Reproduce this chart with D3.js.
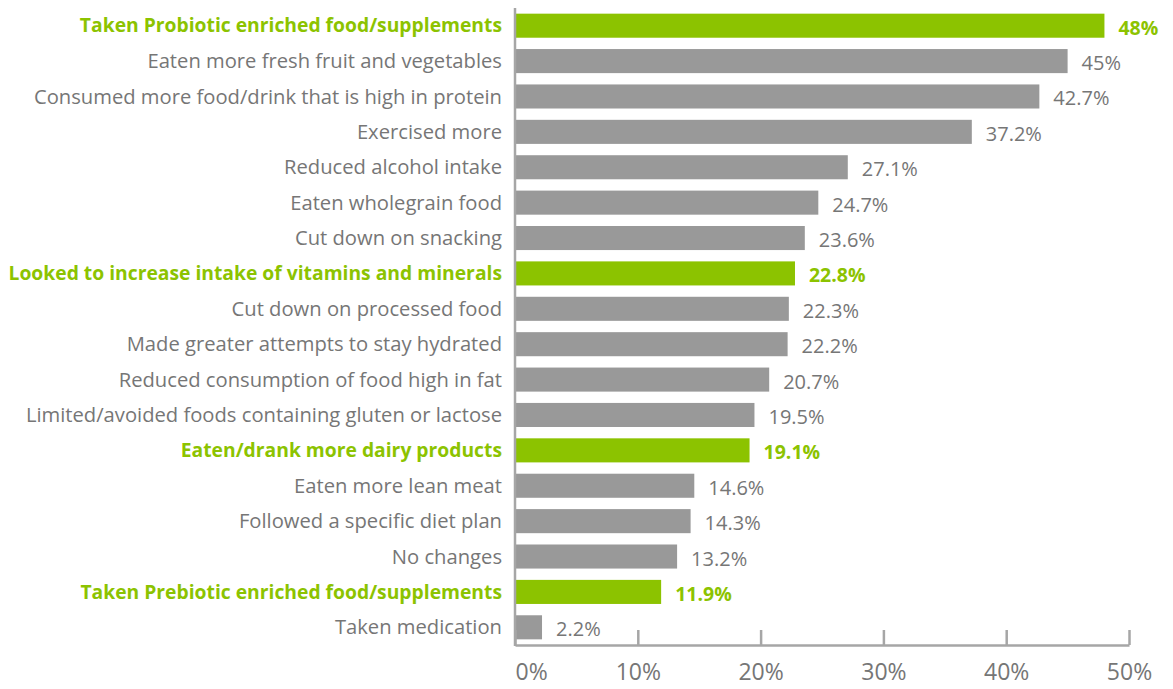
<!DOCTYPE html>
<html>
<head>
<meta charset="utf-8">
<script src="https://cdn.jsdelivr.net/npm/d3@7"></script>
<style>
  body { margin: 0; background: #fff; }
  text { font-family: "Open Sans", "Noto Sans", sans-serif; }
</style>
</head>
<body>
<div id="canvas"></div>
<script>
const categories = [
  "Taken Probiotic enriched food/supplements",
  "Eaten more fresh fruit and vegetables",
  "Consumed more food/drink that is high in protein",
  "Exercised more",
  "Reduced alcohol intake",
  "Eaten wholegrain food",
  "Cut down on snacking",
  "Looked to increase intake of vitamins and minerals",
  "Cut down on processed food",
  "Made greater attempts to stay hydrated",
  "Reduced consumption of food high in fat",
  "Limited/avoided foods containing gluten or lactose",
  "Eaten/drank more dairy products",
  "Eaten more lean meat",
  "Followed a specific diet plan",
  "No changes",
  "Taken Prebiotic enriched food/supplements",
  "Taken medication"
];
const values = [48, 45, 42.7, 37.2, 27.1, 24.7, 23.6, 22.8, 22.3, 22.2, 20.7, 19.5, 19.1, 14.6, 14.3, 13.2, 11.9, 2.2];
const valueLabels = ["48%", "45%", "42.7%", "37.2%", "27.1%", "24.7%", "23.6%", "22.8%", "22.3%", "22.2%", "20.7%", "19.5%", "19.1%", "14.6%", "14.3%", "13.2%", "11.9%", "2.2%"];
const highlighted = [
  "Taken Probiotic enriched food/supplements",
  "Looked to increase intake of vitamins and minerals",
  "Eaten/drank more dairy products",
  "Taken Prebiotic enriched food/supplements"
];
const xTicks = [0, 10, 20, 30, 40, 50];

const width = 1173;
const height = 689;
const green = "#8cc300";
const grey = "#999999";
const textGrey = "#767676";
const axisGrey = "#a6a6a6";

const svg = d3.select("#canvas").append("svg")
  .attr("width", width)
  .attr("height", height);

const x = d3.scaleLinear().domain([0, 50]).range([515, 1129]);
const y = d3.scaleBand().domain(categories).range([8, 645]).paddingInner(0.32).paddingOuter(0.16);

const isHi = (d) => highlighted.includes(d);

// bars
svg.selectAll("rect.bar")
  .data(categories)
  .enter()
  .append("rect")
  .attr("class", "bar")
  .attr("x", x(0))
  .attr("y", (d) => y(d))
  .attr("width", (d, i) => x(values[i]) - x(0))
  .attr("height", y.bandwidth())
  .attr("fill", (d) => isHi(d) ? green : grey);

// category labels
svg.selectAll("text.cat")
  .data(categories)
  .enter()
  .append("text")
  .attr("class", "cat")
  .attr("x", 502)
  .attr("y", (d) => y(d) + y.bandwidth() / 2)
  .attr("dy", "0.35em")
  .attr("text-anchor", "end")
  .attr("font-size", (d) => isHi(d) ? 19.3 : 20.2)
  .attr("font-weight", (d) => isHi(d) ? "bold" : "normal")
  .attr("fill", (d) => isHi(d) ? green : textGrey)
  .text((d) => d);

// value labels
svg.selectAll("text.val")
  .data(categories)
  .enter()
  .append("text")
  .attr("class", "val")
  .attr("x", (d, i) => x(values[i]) + 14)
  .attr("y", (d) => y(d) + y.bandwidth() / 2 + 2)
  .attr("dy", "0.35em")
  .attr("font-size", (d) => isHi(d) ? 19.5 : 20)
  .attr("font-weight", (d) => isHi(d) ? "bold" : "normal")
  .attr("fill", (d) => isHi(d) ? green : textGrey)
  .text((d, i) => valueLabels[i]);

// x axis
const xAxis = svg.append("g")
  .attr("transform", "translate(0,645)")
  .call(d3.axisBottom(x).tickValues(xTicks).tickSizeInner(-15).tickSizeOuter(0).tickFormat((d) => d + "%"));
xAxis.select(".domain").attr("stroke", axisGrey).attr("stroke-width", 2.5);
xAxis.selectAll(".tick line").attr("stroke", axisGrey).attr("stroke-width", 2.5);
xAxis.selectAll(".tick text")
  .attr("y", 35)
  .attr("dy", 0)
  .attr("font-size", 23)
  .attr("font-family", "'Open Sans', sans-serif")
  .attr("fill", textGrey)
  .attr("text-anchor", (d) => d === 0 ? "start" : "middle");

// y axis line
svg.append("line")
  .attr("x1", x(0)).attr("x2", x(0))
  .attr("y1", 8).attr("y2", 646)
  .attr("stroke", axisGrey)
  .attr("stroke-width", 2.5);
</script>
</body>
</html>
